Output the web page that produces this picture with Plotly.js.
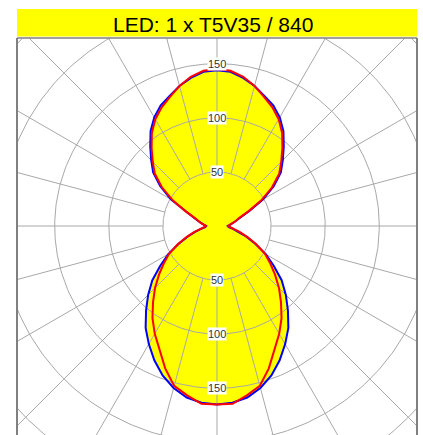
<!DOCTYPE html>
<html><head><meta charset="utf-8">
<script src="https://cdn.plot.ly/plotly-3.0.1.min.js"></script>
<style>html,body{margin:0;padding:0;background:#fff;overflow:hidden}</style>
</head><body><div id="chart" style="width:423px;height:435px"></div>
<script>
// Photometric data (gamma angle from nadir, cd/klm)
const gammaDeg = [0,5,10,15,20,25,30,35,40,45,50,55,60,65,70,75,80,85,90,95,100,105,110,115,120,125,130,135,140,145,150,155,160,165,170,175,180];
const intensityC0C180 = [165,165,159,153,140,126,115,104,92,81,70,60,51,40,30,22,16,12,10,12,15,18,22,32,47,62,75,84,94,105,114,121,127,134,140,144,145];
const intensityC90C270 = [165,164,161,155,147,137,126,115,102,90,78,64,52,39,29,21,15,11,10,12,15,18,23,33,49,64,77,86,96,107,116,123,128,134,139,143,144];
const ringValues = [50,100,150,200,250];
const ringLabels = ['50','100','150'];
const spokeStepDeg = 15;
const titleText = 'LED: 1 x T5V35 / 840';

const pxPerUnit = 1.082;
const plotW = 400, plotH = 397, centerFromTop = 188;

function curveXY(vals){
  const xs=[], ys=[];
  for(let i=0;i<gammaDeg.length;i++){
    const g=gammaDeg[i]*Math.PI/180;
    xs.push(vals[i]*Math.sin(g)); ys.push(-vals[i]*Math.cos(g));
  }
  for(let i=gammaDeg.length-1;i>=0;i--){
    const g=gammaDeg[i]*Math.PI/180;
    xs.push(-vals[i]*Math.sin(g)); ys.push(-vals[i]*Math.cos(g));
  }
  return {x:xs,y:ys};
}

const blue = curveXY(intensityC90C270);
const red = curveXY(intensityC0C180);

// grid
const gx=[], gy=[];
ringValues.forEach(r=>{
  for(let a=0;a<=360;a+=1){const t=a*Math.PI/180; gx.push(r*Math.sin(t)); gy.push(r*Math.cos(t));}
  gx.push(null); gy.push(null);
});
const rMin = ringValues[0], rMax = 400;
for(let a=0;a<360;a+=spokeStepDeg){
  const t=a*Math.PI/180;
  gx.push(rMin*Math.sin(t), rMax*Math.sin(t), null);
  gy.push(rMin*Math.cos(t), rMax*Math.cos(t), null);
}

const traces = [
  {x:blue.x,y:blue.y,mode:'lines',fill:'toself',fillcolor:'#ffff00',line:{width:0,color:'#ffff00'},hoverinfo:'skip'},
  {x:red.x,y:red.y,mode:'lines',fill:'toself',fillcolor:'#ffff00',line:{width:0,color:'#ffff00'},hoverinfo:'skip'},
  {x:gx,y:gy,mode:'lines',line:{width:1,color:'#a8a8a8'},hoverinfo:'skip'},
  {x:blue.x,y:blue.y,mode:'lines',line:{width:2,color:'#0000ff'},hoverinfo:'skip'},
  {x:red.x,y:red.y,mode:'lines',line:{width:2,color:'#ff0000'},hoverinfo:'skip'}
];

const annotations = [];
ringLabels.forEach((lab,i)=>{
  const r = ringValues[i];
  [r,-r].forEach(yv=>annotations.push({x:0,y:yv,xref:'x',yref:'y',text:lab,showarrow:false,
    bgcolor:'#ffffff',borderpad:0,font:{family:'Arial, Liberation Sans, sans-serif',size:11,color:'#333333'}}));
});
annotations.push({xref:'paper',yref:'paper',x:0.489,y:1+(38-24)/plotH,xanchor:'center',yanchor:'middle',
  text:titleText,showarrow:false,font:{family:'Arial, Liberation Sans, sans-serif',size:21,color:'#000000'}});

const halfW = plotW/2/pxPerUnit;
const layout = {
  width:423,height:435,
  margin:{l:17,r:6,t:38,b:0,pad:0},
  paper_bgcolor:'#ffffff',plot_bgcolor:'#ffffff',
  showlegend:false,hovermode:false,
  xaxis:{range:[-halfW,halfW],visible:false,fixedrange:true},
  yaxis:{range:[-(plotH-centerFromTop)/pxPerUnit, centerFromTop/pxPerUnit],visible:false,fixedrange:true},
  shapes:[
    {type:'rect',xref:'paper',yref:'paper',x0:0,x1:1,y0:1+(38-36.5)/plotH,y1:1+(38-9)/plotH,fillcolor:'#ffff00',line:{width:0}},
    {type:'line',xref:'paper',yref:'paper',x0:0,x1:0,y0:0,y1:1,line:{color:'#808080',width:2}},
    {type:'line',xref:'paper',yref:'paper',x0:1,x1:1,y0:0,y1:1,line:{color:'#808080',width:2}},
    {type:'line',xref:'paper',yref:'paper',x0:0,x1:1,y0:1,y1:1,line:{color:'#808080',width:1.5}}
  ],
  annotations:annotations
};
Plotly.newPlot('chart',traces,layout,{displayModeBar:false,staticPlot:true});
</script></body></html>
